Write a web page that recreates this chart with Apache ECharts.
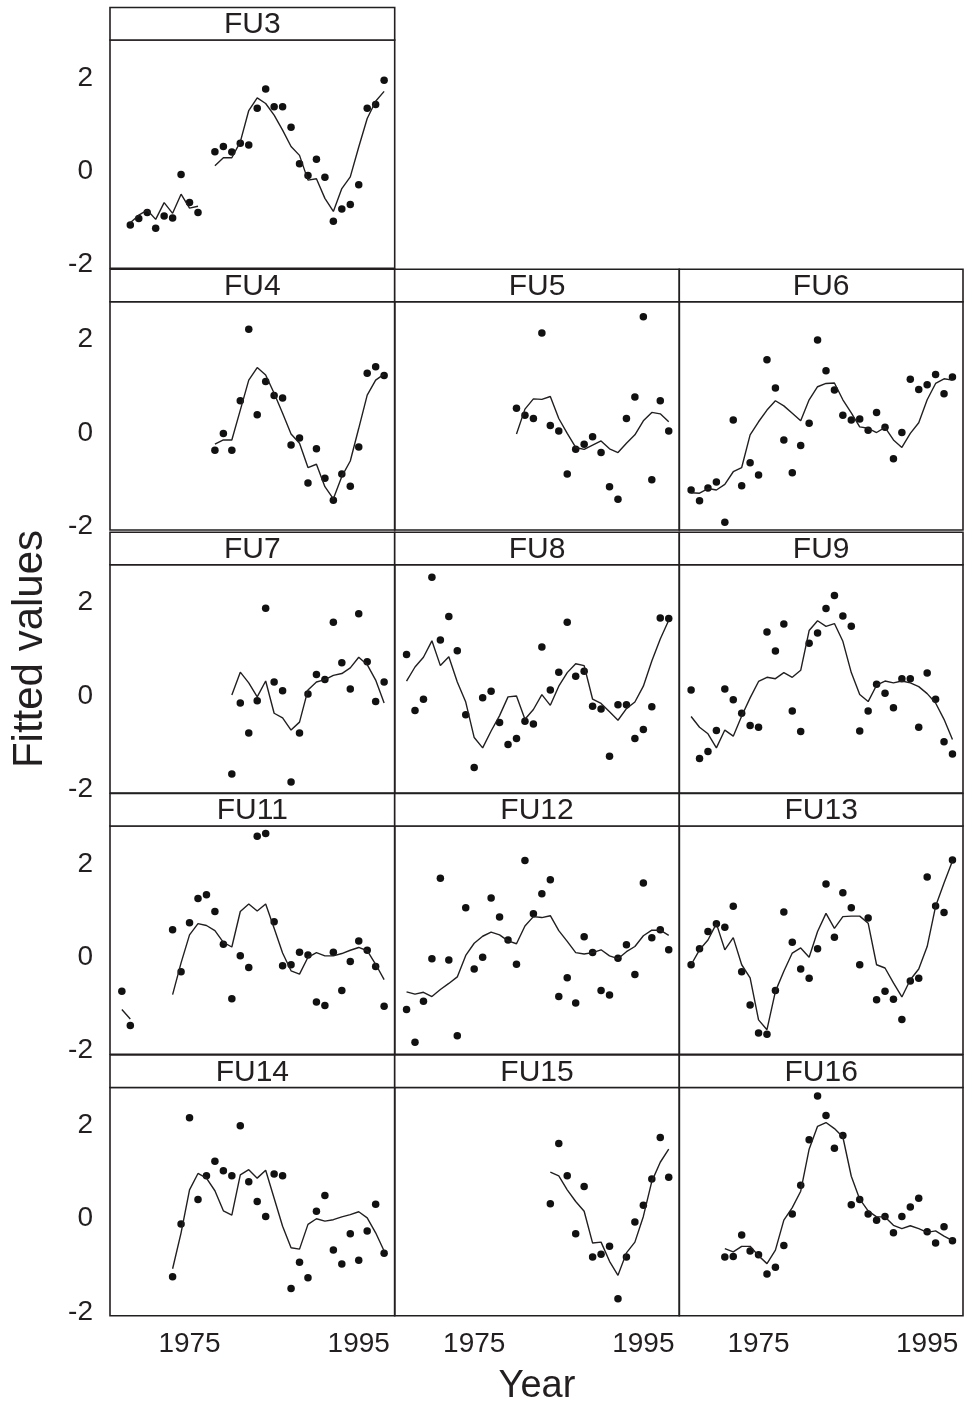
<!DOCTYPE html>
<html><head><meta charset="utf-8">
<script src="https://cdn.jsdelivr.net/npm/echarts@6/dist/echarts.min.js"></script>
<style>html,body{margin:0;padding:0;background:#fff}#c{width:964px;height:1405px}</style>
</head><body><div id="c"></div><script>
const N = null;
const years = [1967,1968,1969,1970,1971,1972,1973,1974,1975,1976,1977,1978,1979,1980,1981,1982,1983,1984,1985,1986,1987,1988,1989,1990,1991,1992,1993,1994,1995,1996,1997,1998];
const xTicks = [1975, 1995];
const yTicks = [-2, 0, 2];

const fu3Obs = [N,-1.15,-1.01,-0.88,-1.22,-0.96,-1.00,-0.07,-0.67,-0.88,N,0.42,0.53,0.41,0.60,0.56,1.35,1.76,1.38,1.38,0.94,0.16,-0.09,0.26,-0.13,-1.07,-0.81,-0.71,-0.29,1.35,1.43,1.95];
const fu3Fit = [N,-1.10,-0.94,-0.83,-1.03,-0.67,-0.90,-0.49,-0.79,-0.75,N,0.12,0.29,0.29,0.63,1.30,1.57,1.45,1.20,0.88,0.53,0.34,-0.19,-0.16,-0.58,-0.86,-0.37,-0.12,0.52,1.13,1.50,1.71];

const fu4Obs = [N,N,N,N,N,N,N,N,N,N,N,-0.37,-0.01,-0.37,0.69,2.22,0.39,1.10,0.80,0.75,-0.26,-0.11,-1.07,-0.34,-0.97,-1.44,-0.88,-1.14,-0.30,1.28,1.42,1.23];
const fu4Fit = [N,N,N,N,N,N,N,N,N,N,N,-0.24,-0.15,-0.15,0.49,1.13,1.40,1.24,0.85,0.42,-0.02,-0.22,-0.74,-0.67,-1.15,-1.41,-0.93,-0.60,0.10,0.81,1.13,1.26];

const fu5Obs = [N,N,N,N,N,N,N,N,N,N,N,N,N,0.53,0.38,0.31,2.14,0.16,0.04,-0.88,-0.35,-0.24,-0.08,-0.42,-1.15,-1.42,0.31,0.77,2.49,-1.00,0.69,0.04];
const fu5Fit = [N,N,N,N,N,N,N,N,N,N,N,N,N,-0.02,0.51,0.73,0.72,0.78,0.31,-0.01,-0.31,-0.35,-0.26,-0.17,-0.34,-0.42,-0.22,-0.04,0.26,0.44,0.41,0.24];

const fu6Obs = [-1.22,-1.45,-1.18,-1.05,-1.91,0.28,-1.13,-0.64,-0.90,1.57,0.96,-0.15,-0.85,-0.27,0.21,1.99,1.33,0.92,0.38,0.28,0.30,0.06,0.44,0.12,-0.55,0.01,1.15,0.93,1.03,1.25,0.84,1.20];
const fu6Fit = [-1.28,-1.29,-1.19,-1.22,-1.10,-0.83,-0.74,-0.04,0.24,0.49,0.69,0.58,0.42,0.26,0.71,0.99,1.06,1.07,0.71,0.43,0.13,0.10,0.01,0.12,-0.15,-0.31,-0.01,0.22,0.71,1.06,1.16,1.13];

const fu7Obs = [N,N,N,N,N,N,N,N,N,N,N,N,N,-1.67,-0.15,-0.79,-0.10,1.88,0.30,0.11,-1.84,-0.79,0.04,0.46,0.35,1.58,0.71,0.15,1.76,0.73,-0.12,0.30];
const fu7Fit = [N,N,N,N,N,N,N,N,N,N,N,N,N,0.02,0.51,0.28,-0.02,0.32,-0.37,-0.47,-0.73,-0.56,0.13,0.30,0.35,0.44,0.48,0.60,0.83,0.67,0.34,-0.15];

const fu8Obs = [0.89,-0.31,-0.07,2.54,1.20,1.70,0.97,-0.40,-1.53,-0.04,0.10,-0.57,-1.04,-0.91,-0.54,-0.60,1.05,0.13,0.51,1.58,0.42,0.53,-0.22,-0.28,-1.29,-0.19,-0.19,-0.91,-0.72,-0.23,1.67,1.66];
const fu8Fit = [0.32,0.62,0.83,1.18,0.65,0.84,0.30,-0.13,-0.89,-1.11,-0.75,-0.42,-0.02,0.00,-0.50,-0.29,0.03,-0.20,0.21,0.50,0.69,0.65,-0.07,-0.16,-0.34,-0.52,-0.27,-0.13,0.21,0.75,1.22,1.62];

const fu9Obs = [0.13,-1.34,-1.19,-0.74,0.15,-0.08,-0.37,-0.63,-0.67,1.37,0.96,1.54,-0.32,-0.76,1.13,1.35,1.87,2.15,1.71,1.49,-0.75,-0.32,0.25,0.06,-0.25,0.37,0.37,-0.67,0.49,-0.07,-0.98,-1.24];
const fu9Fit = [-0.44,-0.67,-0.81,-1.11,-0.73,-0.86,-0.43,-0.04,0.31,0.40,0.37,0.50,0.40,0.55,1.40,1.61,1.49,1.55,1.17,0.50,0.03,-0.12,0.23,0.32,0.28,0.32,0.28,0.20,0.05,-0.15,-0.50,-0.93];

const fu11Obs = [-0.73,-1.46,N,N,N,N,0.59,-0.31,0.74,1.26,1.34,0.98,0.28,-0.89,0.03,-0.22,2.59,2.65,0.76,-0.18,-0.16,0.11,0.05,-0.96,-1.03,0.11,-0.71,-0.09,0.35,0.15,-0.20,-1.05];
const fu11Fit = [-1.12,-1.32,N,N,N,N,-0.80,-0.12,0.48,0.72,0.68,0.57,0.32,0.22,0.98,1.14,0.99,1.14,0.62,0.09,-0.29,-0.36,0.00,0.10,0.03,0.03,0.08,0.15,0.21,0.14,-0.15,-0.48];

const fu12Obs = [-1.12,-1.82,-0.94,-0.03,1.69,-0.06,-1.68,1.06,-0.25,0.00,1.27,0.86,0.37,-0.15,2.07,0.93,1.36,1.66,-0.84,-0.44,-0.98,0.44,0.10,-0.71,-0.81,-0.02,0.27,-0.37,1.59,0.42,0.59,0.16];
const fu12Fit = [-0.74,-0.79,-0.75,-0.84,-0.69,-0.56,-0.42,0.04,0.30,0.45,0.54,0.48,0.35,0.29,0.67,0.87,0.85,0.89,0.57,0.34,0.10,0.07,0.10,0.16,0.03,-0.03,0.12,0.23,0.46,0.58,0.58,0.47];

const fu13Obs = [-0.16,0.18,0.55,0.72,0.64,1.09,-0.31,-1.02,-1.62,-1.65,-0.71,0.97,0.32,-0.25,-0.45,0.18,1.57,0.43,1.38,1.06,-0.16,0.84,-0.91,-0.73,-0.90,-1.33,-0.51,-0.45,1.72,1.10,0.96,2.08];
const fu13Fit = [-0.16,0.16,0.37,0.72,0.16,0.42,-0.16,-0.44,-1.34,-1.55,-0.73,-0.30,0.09,0.20,0.00,0.55,0.94,0.62,0.87,0.88,0.88,0.73,-0.16,-0.23,-0.55,-0.85,-0.48,-0.25,0.23,1.09,1.59,2.06];

const fu14Obs = [N,N,N,N,N,N,-1.24,-0.11,2.16,0.41,0.92,1.23,1.03,0.92,1.99,0.79,0.37,0.05,0.96,0.92,-1.49,-0.93,-1.26,0.16,0.50,-0.67,-0.97,-0.32,-0.89,-0.26,0.31,-0.74];
const fu14Fit = [N,N,N,N,N,N,-1.07,-0.30,0.62,0.97,0.87,0.60,0.17,0.08,0.94,1.05,0.87,1.04,0.44,-0.16,-0.62,-0.65,-0.12,0.00,-0.05,-0.02,0.04,0.09,0.15,0.02,-0.30,-0.69];

const fu15Obs = [N,N,N,N,N,N,N,N,N,N,N,N,N,N,N,N,N,0.32,1.61,0.92,-0.32,0.69,-0.82,-0.76,-0.59,-1.71,-0.82,-0.07,0.29,0.85,1.74,0.89];
const fu15Fit = [N,N,N,N,N,N,N,N,N,N,N,N,N,N,N,N,N,1.00,0.92,0.62,0.37,0.16,-0.52,-0.50,-0.91,-1.21,-0.73,-0.50,0.05,0.80,1.21,1.49];

const fu16Obs = [N,N,N,N,-0.82,-0.81,-0.35,-0.69,-0.77,-1.18,-1.04,-0.57,0.10,0.72,1.69,2.63,2.21,1.51,1.78,0.30,0.41,0.10,-0.03,0.05,-0.30,0.05,0.25,0.44,-0.28,-0.52,-0.17,-0.47];
const fu16Fit = [N,N,N,N,-0.64,-0.71,-0.59,-0.59,-0.79,-0.96,-0.67,-0.03,0.24,0.59,1.49,1.98,2.06,1.93,1.75,0.91,0.42,0.17,0.04,0.04,-0.14,-0.21,-0.15,-0.21,-0.29,-0.26,-0.37,-0.47];

const panels = [
  {name:'FU3',  obs:fu3Obs,  fit:fu3Fit,  row:0, col:0},
  {name:'FU4',  obs:fu4Obs,  fit:fu4Fit,  row:1, col:0},
  {name:'FU5',  obs:fu5Obs,  fit:fu5Fit,  row:1, col:1},
  {name:'FU6',  obs:fu6Obs,  fit:fu6Fit,  row:1, col:2},
  {name:'FU7',  obs:fu7Obs,  fit:fu7Fit,  row:2, col:0},
  {name:'FU8',  obs:fu8Obs,  fit:fu8Fit,  row:2, col:1},
  {name:'FU9',  obs:fu9Obs,  fit:fu9Fit,  row:2, col:2},
  {name:'FU11', obs:fu11Obs, fit:fu11Fit, row:3, col:0},
  {name:'FU12', obs:fu12Obs, fit:fu12Fit, row:3, col:1},
  {name:'FU13', obs:fu13Obs, fit:fu13Fit, row:3, col:2},
  {name:'FU14', obs:fu14Obs, fit:fu14Fit, row:4, col:0},
  {name:'FU15', obs:fu15Obs, fit:fu15Fit, row:4, col:1},
  {name:'FU16', obs:fu16Obs, fit:fu16Fit, row:4, col:2}
];

// layout
const colLeft = [110, 394.7, 679.3];
const colWidth = [284.7, 284.6, 283.7];
const rowTop = [40, 301.7, 564.7, 826, 1087.5];
const plotH = 228.3;
const stripH = 32.5;
const FONT = '"Liberation Sans", Arial, Helvetica, sans-serif';
const INK = '#231f20';

const grid = [], xAxis = [], yAxis = [], series = [], graphic = [];
panels.forEach((p, i) => {
  const left = colLeft[p.col], top = rowTop[p.row], w = colWidth[p.col];
  grid.push({left: left, top: top, width: w, height: plotH, show: true,
    borderColor: INK, borderWidth: 1.6, backgroundColor: 'transparent', containLabel: false});
  xAxis.push({gridIndex: i, type: 'value', min: 1965.6, max: 1999.25,
    axisLine: {show: false}, axisTick: {show: false}, splitLine: {show: false},
    axisLabel: {show: p.row === 4, customValues: xTicks, formatter: v => String(v),
      fontSize: 28, fontFamily: FONT, color: INK, margin: 14}});
  yAxis.push({gridIndex: i, type: 'value', min: -2.077, max: 2.81,
    axisLine: {show: false}, axisTick: {show: false}, splitLine: {show: false},
    axisLabel: {show: p.col === 0, customValues: yTicks, formatter: v => String(v),
      fontSize: 28, fontFamily: FONT, color: INK, margin: 17}});
  series.push({type: 'line', xAxisIndex: i, yAxisIndex: i,
    data: years.map((y, k) => [y, p.fit[k] == null ? '-' : p.fit[k]]),
    showSymbol: false, connectNulls: false, silent: true,
    lineStyle: {color: INK, width: 1.4}});
  series.push({type: 'scatter', xAxisIndex: i, yAxisIndex: i,
    data: years.map((y, k) => p.obs[k] == null ? null : [y, p.obs[k]]).filter(d => d),
    symbol: 'circle', symbolSize: 7.5, silent: true,
    itemStyle: {color: '#111', opacity: 1}});
  graphic.push({type: 'rect', shape: {x: left, y: top - stripH, width: w, height: stripH},
    style: {fill: '#fff', stroke: INK, lineWidth: 1.6}, z: 10});
  graphic.push({type: 'text', x: left + w / 2, y: top - stripH / 2 + 1,
    style: {text: p.name, fontSize: 30, fontFamily: FONT, fill: INK, align: 'center', verticalAlign: 'middle'}, z: 11});
});
graphic.push({type: 'text', x: 30, y: 649, rotation: Math.PI / 2,
  style: {text: 'Fitted values', fontSize: 42, fontFamily: FONT, fill: INK, align: 'center', verticalAlign: 'middle'}});
graphic.push({type: 'text', x: 537, y: 1387,
  style: {text: 'Year', fontSize: 38, fontFamily: FONT, fill: INK, align: 'center', verticalAlign: 'middle'}});

const chart = echarts.init(document.getElementById('c'), null, {renderer: 'canvas'});
chart.setOption({animation: false, backgroundColor: '#fff', grid, xAxis, yAxis, series, graphic});
</script></body></html>
